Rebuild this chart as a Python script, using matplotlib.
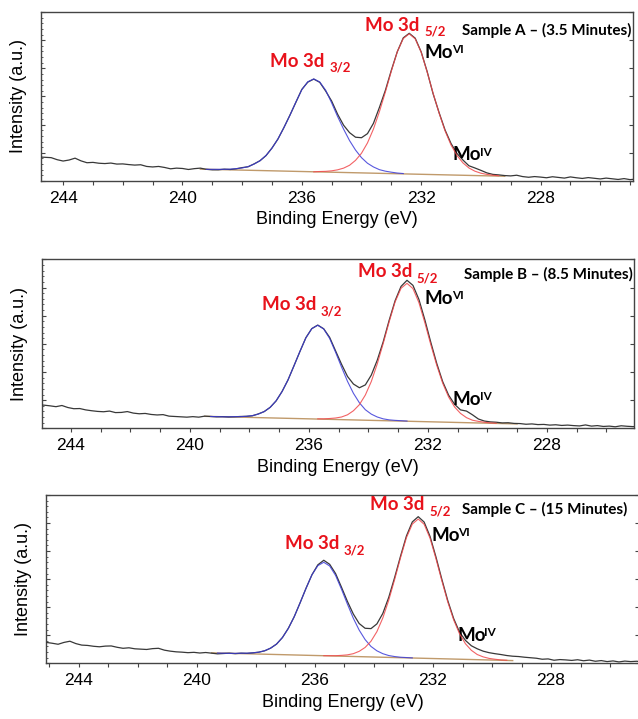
import numpy as np
import matplotlib
matplotlib.use("Agg")
import matplotlib.pyplot as plt
from matplotlib.ticker import MultipleLocator

plt.rcParams["font.family"] = ["Liberation Sans", "DejaVu Sans"]

# Sampling grids of the measured spectra (binding energy, eV; 0.2 eV steps)
ENERGY_A = np.round(np.arange(245.0, 224.75, -0.2), 1)
ENERGY_BC = np.round(np.arange(245.1, 224.85, -0.2), 1)

# Measured envelope (a.u., 0 = bottom of frame, 100 = top)
SPECTRUM_A = [
    14.2, 14.2, 14.0, 13.8, 12.6, 11.8, 12.4, 13.5, 11.9, 10.8,
    11.0, 10.5, 10.3, 10.6, 10.0, 10.1, 9.7, 9.4, 9.6, 8.6,
    8.3, 8.6, 8.0, 7.2, 7.6, 7.4, 6.8, 7.3, 7.6, 6.9,
    6.6, 6.6, 7.0, 6.8, 7.2, 7.9, 8.4, 10.1, 12.0, 15.0,
    19.5, 24.8, 31.6, 38.9, 46.5, 54.2, 58.5, 60.3, 58.4, 53.2,
    47.3, 39.5, 33.0, 28.6, 25.9, 25.6, 28.0, 34.1, 43.5, 53.6,
    65.5, 76.5, 84.7, 87.4, 84.5, 76.4, 64.8, 51.6, 40.5, 30.2,
    22.2, 16.3, 12.4, 9.0, 7.7, 6.3, 4.8, 3.9, 3.6, 3.2,
    3.0, 3.4, 2.6, 2.2, 2.6, 2.3, 1.9, 2.5, 2.1, 1.7,
    2.4, 1.9, 1.5, 2.0, 1.6, 1.2, 1.7, 1.3, 0.9, 1.4,
    0.8, 1.1,
]
SPECTRUM_B = [
    13.9, 13.7, 13.3, 12.8, 13.5, 12.3, 11.6, 11.7, 10.9, 10.4,
    10.0, 9.8, 10.2, 9.3, 9.4, 9.9, 9.0, 8.6, 8.8, 8.2,
    7.9, 8.1, 7.2, 7.0, 6.8, 6.6, 6.9, 6.6, 7.2, 7.0,
    6.8, 6.9, 6.7, 6.8, 7.0, 7.1, 7.4, 8.5, 9.9, 12.4,
    16.2, 21.8, 28.6, 37.0, 45.4, 53.6, 59.0, 61.1, 58.9, 53.8,
    45.8, 37.9, 30.7, 26.2, 24.0, 25.7, 31.5, 40.3, 51.2, 63.9,
    75.5, 84.0, 87.6, 84.6, 76.3, 64.2, 50.9, 38.4, 27.6, 19.6,
    14.2, 10.9, 10.2, 8.0, 5.5, 4.3, 3.8, 3.6, 3.2, 3.3,
    2.9, 2.8, 2.4, 2.6, 2.2, 2.3, 1.9, 2.1, 1.7, 1.9,
    1.6, 1.4, 2.0, 1.3, 1.6, 1.1, 1.3, 0.9, 1.5, 1.2,
    1.0, 1.3,
]
SPECTRUM_C = [
    12.4, 11.9, 11.3, 12.4, 13.1, 11.7, 10.8, 10.6, 10.1, 9.8,
    10.2, 10.3, 9.5, 8.9, 9.2, 8.6, 8.4, 8.2, 8.7, 8.9,
    7.8, 7.2, 6.8, 6.6, 6.3, 6.5, 6.1, 6.4, 6.0, 5.6,
    5.8, 6.0, 5.7, 6.0, 5.9, 6.2, 6.6, 7.4, 9.0, 11.4,
    15.3, 20.8, 27.7, 36.0, 44.6, 52.6, 58.5, 61.2, 58.8, 53.3,
    45.2, 36.8, 29.3, 23.6, 20.8, 20.6, 23.4, 29.6, 39.1, 50.9,
    63.6, 75.6, 84.0, 87.1, 83.9, 75.4, 63.2, 49.9, 37.3, 26.6,
    18.5, 13.6, 10.4, 8.6, 7.2, 6.3, 5.7, 5.2, 4.6, 4.2,
    4.0, 3.6, 3.3, 3.0, 2.4, 2.6, 1.8, 2.2, 2.0, 1.7,
    2.1, 1.5, 1.9, 1.2, 1.6, 1.0, 1.4, 0.8, 1.3, 1.0,
    1.2, 0.9,
]

# Fitted components (drawn on top of the background), first energy + values every 0.2 eV
BLUE_A_START = 239.2
BLUE_A = [6.9, 6.9, 6.9, 6.9, 7.0, 7.3, 7.7, 8.5, 10.0, 12.0,
          15.1, 19.4, 24.9, 31.6, 38.8, 46.7, 54.0, 58.7, 60.4, 58.6,
          53.7, 46.2, 38.1, 30.7, 23.9, 18.3, 13.8, 10.5, 8.3, 6.7,
          5.8, 5.2, 4.7, 4.4]
RED_A_START = 235.6
RED_A = [5.4, 5.6, 5.7, 6.0, 6.6, 7.6, 9.3, 12.2, 16.4, 22.5,
         30.7, 41.0, 52.6, 65.0, 76.5, 84.3, 87.1, 84.1, 76.2, 64.5,
         51.9, 40.2, 29.7, 21.3, 15.1, 10.7, 7.7, 5.8, 4.6, 3.9,
         3.4, 3.1]
BLUE_B_START = 239.3
BLUE_B = [7.0, 6.9, 6.8, 6.8, 6.9, 6.9, 7.1, 7.5, 8.4, 9.9,
          12.4, 16.3, 21.7, 28.7, 36.9, 45.5, 53.5, 59.0, 61.0, 58.8,
          53.2, 45.0, 36.2, 27.8, 20.7, 15.1, 11.0, 8.4, 6.7, 5.6,
          5.0, 4.7, 4.5, 4.3]
RED_B_START = 235.7
RED_B = [5.6, 5.6, 5.8, 6.1, 6.7, 8.0, 10.4, 14.0, 19.7, 27.7,
         38.1, 50.2, 63.0, 74.8, 82.9, 85.8, 82.7, 74.4, 62.5, 49.5,
         37.3, 26.7, 18.5, 12.6, 8.8, 6.3, 4.8, 4.1, 3.6, 3.2,
         3.0]
BLUE_C_START = 239.3
BLUE_C = [6.1, 6.0, 5.9, 5.9, 6.0, 6.0, 6.2, 6.6, 7.5, 9.0,
          11.4, 15.3, 20.7, 27.7, 36.0, 44.6, 52.6, 58.0, 60.0, 57.8,
          52.2, 44.0, 35.2, 26.8, 19.7, 14.1, 10.0, 7.4, 5.7, 4.6,
          4.0, 3.6, 3.4, 3.2]
RED_C_START = 235.7
RED_C = [4.5, 4.5, 4.5, 4.7, 5.0, 5.7, 7.1, 9.4, 13.1, 18.8,
         26.9, 37.4, 49.7, 62.7, 74.6, 82.7, 85.7, 82.6, 74.3, 62.2,
         49.0, 36.5, 25.8, 17.5, 11.6, 7.7, 5.2, 3.8, 2.9, 2.4,
         2.0, 1.8]

# Linear background (start/end energy, start/end intensity)
BASE_A = ([239.4, 229.2], [7.0, 2.8])
BASE_B = ([239.5, 229.0], [7.1, 2.6])
BASE_C = ([239.5, 229.3], [6.2, 1.6])

SAMPLE_LABELS = ["Sample A \u2013 (3.5 Minutes)", "Sample B \u2013 (8.5 Minutes)",
                 "Sample C \u2013 (15 Minutes)"]

# layout: axes rectangles, x limits, label anchors (energy, intensity)
AXES_RECTS = [[0.0643, 0.7483, 0.9279, 0.2350],
              [0.0658, 0.4043, 0.9279, 0.2350],
              [0.0721, 0.0775, 0.9295, 0.2341]]
XLIMS = [(244.74, 224.90), (244.97, 225.07), (245.11, 225.02)]
POS_MO32 = [(237.07, 71.0), (237.59, 73.0), (237.03, 71.3)]
POS_MO52 = [(233.89, 92.3), (234.36, 92.7), (234.13, 94.1)]
POS_MOVI = [(231.88, 76.3), (232.10, 77.1), (232.06, 76.2)]
POS_MOIV = [(230.94, 15.4), (231.16, 17.3), (231.18, 16.8)]
POS_SAMPLE = [(224.95, 89.3), (225.12, 91.3), (225.41, 91.1)]

RED_TXT = "#e8121b"
ANNOT_FONT = ["Lato", "DejaVu Sans"]


def comp_energy(start, values):
    return start - 0.2 * np.arange(len(values))


def label_with_sub(ax, xy, main, sub, color, sub_dy):
    t = ax.text(xy[0], xy[1], main, color=color, fontsize=13.5, fontweight="bold",
                family=ANNOT_FONT, ha="left", va="center")
    ax.annotate(sub, xy=(1, 0.5), xycoords=t, xytext=(3.5, sub_dy),
                textcoords="offset points", color=color, fontsize=9.5,
                fontweight="bold", family=ANNOT_FONT, ha="left", va="center")


def label_with_sup(ax, xy, sup):
    t = ax.text(xy[0], xy[1], "Mo", color="black", fontsize=13.5, fontweight="bold",
                family=ANNOT_FONT, ha="left", va="center")
    ax.annotate(sup, xy=(1, 1), xycoords=t, xytext=(-1.0, -0.5),
                textcoords="offset points", color="black", fontsize=8.5,
                fontweight="bold", family=ANNOT_FONT, ha="left", va="top")


panels = [
    (ENERGY_A, SPECTRUM_A, BLUE_A_START, BLUE_A, RED_A_START, RED_A, BASE_A),
    (ENERGY_BC, SPECTRUM_B, BLUE_B_START, BLUE_B, RED_B_START, RED_B, BASE_B),
    (ENERGY_BC, SPECTRUM_C, BLUE_C_START, BLUE_C, RED_C_START, RED_C, BASE_C),
]

fig = plt.figure(figsize=(6.38, 7.19), dpi=100)

for i, (energy, spec, b0, blue, r0, red, base) in enumerate(panels):
    ax = fig.add_axes(AXES_RECTS[i])
    ax.plot(base[0], base[1], color="#c09a6b", lw=1.0, zorder=2)
    ax.plot(energy, spec, color="#383838", lw=0.9, zorder=3)
    ax.plot(comp_energy(b0, blue), blue, color="#3b3bd8", lw=0.8, alpha=0.85, zorder=4)
    ax.plot(comp_energy(r0, red), red, color="#f0474a", lw=0.8, alpha=0.85, zorder=4)

    ax.set_xlim(*XLIMS[i])
    ax.set_ylim(0, 100)

    ax.xaxis.set_major_locator(MultipleLocator(4))
    ax.xaxis.set_minor_locator(MultipleLocator(1))
    ax.yaxis.set_major_locator(MultipleLocator(100 / 6))
    ax.yaxis.set_minor_locator(MultipleLocator(100 / 30))
    ax.tick_params(axis="x", which="both", direction="out", length=3, width=0.8,
                   color="#444444", labelsize=12.5, pad=4)
    ax.tick_params(axis="y", which="major", direction="in", length=3, width=0.8,
                   color="#444444", left=True, right=True, labelleft=False)
    ax.tick_params(axis="y", which="minor", direction="in", length=1.5, width=0.6,
                   color="#444444", left=True, right=False)
    for sp in ax.spines.values():
        sp.set_color("#444444")
        sp.set_linewidth(1.0)

    ax.set_xlabel("Binding Energy (eV)", fontsize=13, labelpad=4)
    ax.set_ylabel("Intensity (a.u.)", fontsize=13, labelpad=7)

    label_with_sub(ax, POS_MO32[i], "Mo 3d", "3/2", RED_TXT, -5)
    label_with_sub(ax, POS_MO52[i], "Mo 3d", "5/2", RED_TXT, -5)
    label_with_sup(ax, POS_MOVI[i], "VI")
    label_with_sup(ax, POS_MOIV[i], "IV")
    ax.text(POS_SAMPLE[i][0], POS_SAMPLE[i][1], SAMPLE_LABELS[i], fontsize=11,
            fontweight="bold", family=ANNOT_FONT, ha="right", va="center")

fig.savefig("out.png", dpi=100)
